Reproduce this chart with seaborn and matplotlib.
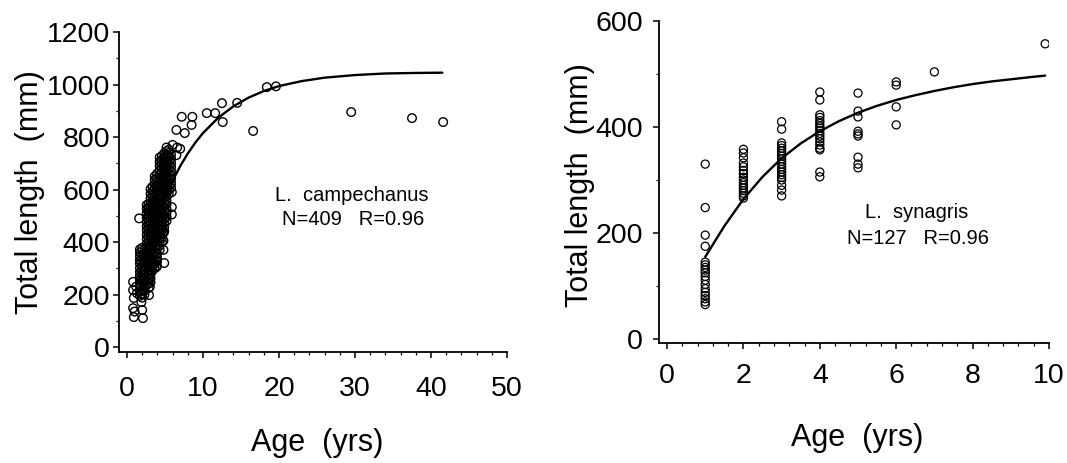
import matplotlib
matplotlib.use("Agg")
import matplotlib.pyplot as plt
import seaborn as sns
from matplotlib.ticker import MultipleLocator

# ---------------- data: L. campechanus ----------------
lc_age_scatter = [0.8, 0.8, 0.9, 0.8, 0.9, 1.0, 1.2, 1.3, 1.9, 2.0, 2.1, 1.9, 1.6, 2.9, 3.0]
lc_len_scatter = [248, 217, 187, 148, 114, 135, 230, 205, 171, 141, 110, 200, 490, 198, 229]

lc_age_c1 = [1.7] * 13 + [2.0] * 14 + [2.3] * 12
lc_len_c1 = [195, 210, 228, 240, 256, 270, 285, 300, 318, 330, 345, 360, 372,
             188, 203, 217, 232, 248, 262, 279, 292, 307, 322, 338, 351, 366, 378,
             200, 214, 230, 246, 259, 275, 290, 305, 320, 334, 349, 363]

lc_age_c2 = [2.6] * 20 + [2.85] * 21 + [3.1] * 23
lc_len_c2 = [236, 250, 268, 283, 300, 316, 331, 348, 362, 380, 395, 412, 428, 445, 460, 477, 492, 510, 526, 541,
             225, 242, 258, 273, 290, 305, 322, 338, 353, 370, 386, 401, 418, 433, 450, 466, 481, 498, 513, 530, 545,
             246, 262, 278, 293, 309, 326, 341, 357, 374, 390, 405, 421, 437, 454, 470, 486, 502, 517, 533, 549, 566, 584, 602]

lc_age_c3 = [3.35] * 21 + [3.65] * 23 + [3.95] * 23
lc_len_c3 = [291, 305, 323, 337, 355, 369, 387, 401, 419, 433, 451, 465, 483, 497, 515, 529, 547, 561, 579, 593, 611,
             300, 317, 331, 349, 363, 381, 395, 413, 427, 445, 459, 477, 491, 509, 523, 541, 555, 573, 587, 605, 619, 637, 650,
             310, 326, 342, 356, 374, 388, 406, 420, 438, 452, 470, 484, 502, 516, 534, 548, 566, 580, 598, 612, 630, 644, 660]

lc_age_c4 = [4.3] * 23 + [4.6] * 22 + [4.9] * 20
lc_len_c4 = [370, 386, 402, 418, 432, 450, 464, 482, 496, 514, 528, 546, 560, 578, 592, 610, 624, 642, 656, 674, 690, 706, 722,
             400, 416, 431, 447, 462, 478, 494, 509, 525, 541, 556, 572, 588, 603, 619, 635, 650, 666, 682, 697, 713, 728,
             440, 455, 471, 487, 502, 518, 534, 549, 565, 581, 596, 612, 628, 643, 659, 675, 690, 706, 722, 738]

lc_age_c5 = [5.2] * 19 + [5.5] * 12 + [5.8] * 9
lc_len_c5 = [480, 496, 511, 527, 543, 558, 574, 590, 605, 621, 637, 652, 668, 684, 699, 715, 731, 746, 760,
             583, 598, 614, 630, 645, 661, 677, 692, 708, 724, 739, 752,
             607, 623, 639, 654, 670, 686, 701, 717, 733]

lc_age_old = [6.0, 6.6, 7.0, 6.5, 5.9, 5.9, 5.9, 4.8, 4.8, 4.8, 4.9, 3.9, 3.9,
              6.5, 7.2, 7.6, 8.6, 8.5, 10.5, 11.6, 12.5, 12.6, 14.5, 16.6, 18.4, 19.6, 29.5, 37.5, 41.6]
lc_len_old = [770, 760, 755, 731, 590, 533, 505, 434, 405, 370, 320, 331, 305,
              827, 877, 815, 877, 846, 891, 891, 929, 857, 930, 823, 990, 993, 895, 872, 857]

lc_curve_age = [1.5, 2, 3, 4, 5, 5.5, 6, 7, 8, 9, 10, 12, 14, 16, 18, 20, 23, 26, 30, 34, 38, 41.5]
lc_curve_len = [256, 312, 410, 496, 569, 602, 633, 689, 737, 779, 815, 873, 917, 950, 975, 994, 1013, 1026, 1036, 1042, 1044, 1045]

# ---------------- data: L. synagris ----------------
ls_age = ([1] * 18 + [2] * 16 + [3] * 20 + [4] * 18 + [5] * 9 + [6] * 4 + [7] + [9.9])
ls_len = [330, 248, 196, 175, 145, 140, 135, 130, 125, 118, 111, 103, 95, 88, 82, 76, 70, 65,
          358, 351, 342, 332, 325, 318, 312, 305, 300, 295, 290, 285, 280, 275, 270, 266,
          410, 396, 370, 365, 360, 355, 350, 345, 340, 335, 330, 325, 320, 315, 310, 305, 300, 290, 281, 270,
          466, 451, 423, 418, 412, 407, 402, 398, 393, 388, 383, 378, 372, 366, 360, 357, 315, 306,
          464, 430, 419, 392, 387, 383, 343, 323, 330,
          485, 479, 438, 404,
          504,
          557]

ls_curve_age = [1, 1.5, 2, 2.5, 3, 3.5, 4, 4.5, 5, 5.5, 6, 6.5, 7, 7.5, 8, 8.5, 9, 9.5, 9.9]
ls_curve_len = [155, 213, 264, 306, 341, 369, 392, 411, 427, 440, 451, 460, 468, 475, 481, 486, 490, 494, 497]

left_xticks = [0, 10, 20, 30, 40, 50]
left_yticks = [0, 200, 400, 600, 800, 1000, 1200]
right_xticks = [0, 2, 4, 6, 8, 10]
right_yticks = [0, 200, 400, 600]

# ---------------- plotting ----------------
sns.set_theme(style="ticks")
plt.rcParams["font.family"] = ["Liberation Sans", "DejaVu Sans"]
plt.rcParams["text.color"] = "black"

fig = plt.figure(figsize=(10.67, 4.63), dpi=100)
ax1 = fig.add_axes([119 / 1067, (463 - 352) / 463, 388 / 1067, 320 / 463])
ax2 = fig.add_axes([659 / 1067, (463 - 343) / 463, 390 / 1067, 322 / 463])

lc_age = lc_age_scatter + lc_age_c1 + lc_age_c2 + lc_age_c3 + lc_age_c4 + lc_age_c5 + lc_age_old
lc_len = lc_len_scatter + lc_len_c1 + lc_len_c2 + lc_len_c3 + lc_len_c4 + lc_len_c5 + lc_len_old

sns.scatterplot(x=lc_age, y=lc_len, ax=ax1, marker="o", s=38,
                facecolors="none", edgecolor="black", linewidth=1.0, zorder=3)
sns.lineplot(x=lc_curve_age, y=lc_curve_len, ax=ax1, color="black", linewidth=1.7, zorder=4)

sns.scatterplot(x=ls_age, y=ls_len, ax=ax2, marker="o", s=34,
                facecolors="none", edgecolor="black", linewidth=0.9, zorder=3)
sns.lineplot(x=ls_curve_age, y=ls_curve_len, ax=ax2, color="black", linewidth=1.7, zorder=4)

ax1.set_xlim(-1.05, 50)
ax1.set_ylim(-19, 1200)
ax2.set_xlim(-0.21, 10)
ax2.set_ylim(-7.5, 600)

ax1.set_xticks(left_xticks)
ax1.set_yticks(left_yticks)
ax1.xaxis.set_minor_locator(MultipleLocator(2))
ax1.yaxis.set_minor_locator(MultipleLocator(100))
ax2.set_xticks(right_xticks)
ax2.set_yticks(right_yticks)
ax2.xaxis.set_minor_locator(MultipleLocator(0.4))
ax2.yaxis.set_minor_locator(MultipleLocator(100))

for ax in (ax1, ax2):
    sns.despine(ax=ax)
    for sp in ("left", "bottom"):
        ax.spines[sp].set_linewidth(1.3)
        ax.spines[sp].set_color("black")
    ax.tick_params(which="major", length=4.5, width=1.1, color="black", labelsize=20.5, labelcolor="black")
    ax.tick_params(which="minor", length=2.5, width=0.9, color="black")
    ax.set_xlabel("Age  (yrs)", fontsize=22, color="black")
    ax.set_ylabel("Total length  (mm)", fontsize=22, color="black")
    ax.xaxis.label.set_va("center")
    ax.yaxis.label.set_va("center")

ax1.tick_params(axis="x", which="major", pad=13)
ax1.tick_params(axis="y", which="major", pad=2)
ax2.tick_params(axis="x", which="major", pad=10)
ax2.tick_params(axis="y", which="major", pad=7)

ax1.xaxis.set_label_coords(0.51, -0.284)
ax1.yaxis.set_label_coords(-0.229, 0.5)
ax2.xaxis.set_label_coords(0.508, -0.295)
ax2.yaxis.set_label_coords(-0.203, 0.49)

ax1.text(29.6, 579, "L.  campechanus", ha="center", va="center", fontsize=14.5, color="black")
ax1.text(29.7, 484, "N=409   R=0.96", ha="center", va="center", fontsize=14.5, color="black")
ax2.text(6.54, 238, "L.  synagris", ha="center", va="center", fontsize=14.5, color="black")
ax2.text(6.56, 190, "N=127   R=0.96", ha="center", va="center", fontsize=14.5, color="black")

fig.savefig("out.png", dpi=100, facecolor="white")
